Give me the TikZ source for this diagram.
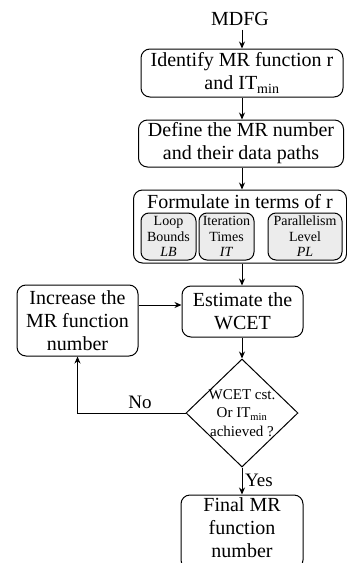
\documentclass[tikz,border=0pt]{standalone}
\usepackage{fontspec}
\setmainfont{Liberation Serif}
\usetikzlibrary{shapes.geometric,arrows.meta}

\begin{document}
\begin{tikzpicture}[x=1pt, y=-1pt, >={Stealth[length=7pt,width=6pt]}, line width=1pt,
  flowbox/.style={draw, rounded corners=9pt, align=center, inner sep=0pt,
    font=\fontsize{20}{23}\selectfont},
  subbox/.style={draw, fill=gray!15, rounded corners=8pt, align=center, inner sep=0pt,
    minimum height=47pt, font=\fontsize{14}{15.5}\selectfont},
  decision/.style={draw, diamond, minimum width=112pt, minimum height=108pt, inner sep=0pt},
  dectext/.style={align=center, inner sep=0pt, font=\fontsize{15}{18.5}\selectfont},
  plain/.style={align=center, font=\fontsize{20}{23}\selectfont},
  lbl/.style={font=\fontsize{19}{22}\selectfont}]

\useasboundingbox (0,0) rectangle (346,563);
\coordinate (axis) at (242,0);

%------------------ MAIN COLUMN ------------------%
\node[plain] (mdfg) at (240,19) {MDFG};
\node[flowbox, minimum width=202pt, minimum height=48pt] (ident) at (242,73)
  {Identify MR function r\\and IT\textsubscript{min}};
\node[flowbox, minimum width=205pt, minimum height=47pt] (define) at (241,143.5)
  {Define the MR number\\and their data paths};

% formulate box with its three parts
\node[flowbox, minimum width=213pt, minimum height=73pt] (formulate) at (240,226.5) {};
\node[plain] (formtitle) at (240,202) {Formulate in terms of r};
\node[subbox, minimum width=55pt] (lb) at (168.5,236.5) {Loop\\Bounds\\\textit{LB}};
\node[subbox, minimum width=55pt] (it) at (226.5,236.5) {Iteration\\Times\\\textit{IT}};
\node[subbox, minimum width=74pt] (pl) at (305,236.5) {Parallelism\\Level\\\textit{PL}};

\node[flowbox, minimum width=121pt, minimum height=51pt] (estimate) at (242.5,311.5)
  {Estimate the\\WCET};
\node[flowbox, minimum width=121pt, minimum height=71pt] (increase) at (77.5,320.5)
  {Increase the\\MR function\\number};

\node[decision] (dec) at (242,413) {};
\node[dectext] (dectext) at (dec.center) {WCET cst.\\Or IT\textsubscript{min}\\achieved ?};

\node[flowbox, minimum width=122pt, minimum height=74pt] (final) at (242,532)
  {};
\node[plain, inner sep=0pt] (finaltext) at (242,528) {Final MR\\function\\number};

%------------------ CONNECTORS ------------------%
\draw[->] (mdfg.south -| axis) -- (ident.north -| axis);
\draw[->] (ident.south -| axis) -- (define.north -| axis);
\draw[->] (define.south -| axis) -- (formulate.north -| axis);
\draw[->] (formulate.south -| axis) -- (estimate.north -| axis);
\draw[->] (estimate.south -| axis) -- (dec.north);
\draw[->] (increase.east |- 0,305) -- (estimate.west |- 0,305);

\draw[->] (dec.west) -| (increase.south);
\node[lbl] (nolbl) at (140,402) {No};

\draw[->] (dec.south) -- (final.north);
\node[lbl] (yeslbl) at (259,480) {Yes};

\end{tikzpicture}
\end{document}
